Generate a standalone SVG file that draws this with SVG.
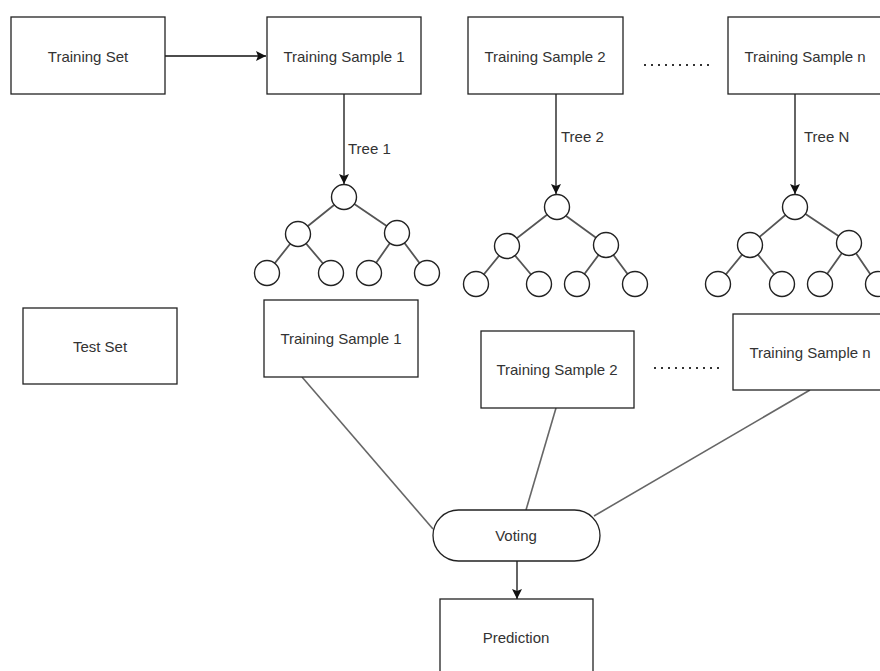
<svg xmlns="http://www.w3.org/2000/svg" width="880" height="671" viewBox="0 0 880 671">
<style>
.box{fill:#fff;stroke:#222;stroke-width:1.3}
.t{font-family:"Liberation Sans",Arial,sans-serif;font-size:15px;fill:#333;text-anchor:middle;dominant-baseline:central}
.tl{font-family:"Liberation Sans",Arial,sans-serif;font-size:15px;fill:#333;dominant-baseline:central}
.arr{stroke:#111;stroke-width:1.3;fill:none}
.edge{stroke:#555;stroke-width:1.8;fill:none}
.gl{stroke:#666;stroke-width:1.6;fill:none}
.c{fill:#fff;stroke:#222;stroke-width:1.4}
.dots{stroke:#333;stroke-width:2;stroke-dasharray:2 5;fill:none}
</style>
<defs>
<marker id="ah" viewBox="0 0 10 10" refX="10" refY="5" markerWidth="10" markerHeight="10" markerUnits="userSpaceOnUse" orient="auto">
<path d="M0,0 L10,5 L0,10 L2,5 z" fill="#111"/>
</marker>
</defs>
<rect width="880" height="671" fill="#fff"/>
<g id="connectors">
<line class="arr" x1="165" y1="56" x2="266" y2="56" marker-end="url(#ah)"/>
<line class="arr" x1="344" y1="94" x2="344" y2="184" marker-end="url(#ah)"/>
<line class="arr" x1="556" y1="94" x2="556" y2="194" marker-end="url(#ah)"/>
<line class="arr" x1="795" y1="94" x2="795" y2="194" marker-end="url(#ah)"/>
<line class="gl" x1="302" y1="377" x2="433" y2="529"/>
<line class="gl" x1="556" y1="408" x2="526" y2="510"/>
<line class="gl" x1="810" y1="390" x2="594" y2="516"/>
<line class="arr" x1="517" y1="561" x2="517" y2="599" marker-end="url(#ah)"/>
<line class="dots" x1="644" y1="65" x2="710" y2="65"/>
<line class="dots" x1="654" y1="368" x2="720" y2="368"/>
</g>
<g id="labels">
<text class="tl" x="348" y="148">Tree 1</text>
<text class="tl" x="561" y="136">Tree 2</text>
<text class="tl" x="804" y="136">Tree N</text>
</g>
<g id="training-set"><rect class="box" x="11" y="17" width="154" height="77"/><text class="t" x="88" y="56">Training Set</text></g>
<g id="ts1-top"><rect class="box" x="267" y="17" width="154" height="77"/><text class="t" x="344" y="56">Training Sample 1</text></g>
<g id="ts2-top"><rect class="box" x="468" y="17" width="155" height="77"/><text class="t" x="545" y="56">Training Sample 2</text></g>
<g id="tsn-top"><rect class="box" x="728" y="17" width="155" height="77"/><text class="t" x="805" y="56">Training Sample n</text></g>
<g id="tree1">
<path class="edge" d="M344,197 L298,234 M344,197 L397,233 M298,234 L267,273 M298,234 L331,273 M397,233 L369,273 M397,233 L427,273"/>
<circle class="c" cx="344" cy="197" r="12.5"/>
<circle class="c" cx="298" cy="234" r="12.5"/>
<circle class="c" cx="397" cy="233" r="12.5"/>
<circle class="c" cx="267" cy="273" r="12.5"/>
<circle class="c" cx="331" cy="273" r="12.5"/>
<circle class="c" cx="369" cy="273" r="12.5"/>
<circle class="c" cx="427" cy="273" r="12.5"/>
</g>
<g id="tree2">
<path class="edge" d="M557,207 L507,246 M562,213 L606,245 M507,246 L476,284 M507,246 L539,284 M606,245 L577,284 M606,245 L635,284"/>
<circle class="c" cx="557" cy="207" r="12.5"/>
<circle class="c" cx="507" cy="246" r="12.5"/>
<circle class="c" cx="606" cy="245" r="12.5"/>
<circle class="c" cx="476" cy="284" r="12.5"/>
<circle class="c" cx="539" cy="284" r="12.5"/>
<circle class="c" cx="577" cy="284" r="12.5"/>
<circle class="c" cx="635" cy="284" r="12.5"/>
</g>
<g id="treeN">
<path class="edge" d="M795,207 L750,245 M795,207 L849,243 M750,245 L718,284 M750,245 L782,284 M849,243 L820,284 M849,243 L877,284"/>
<circle class="c" cx="795" cy="207" r="12.5"/>
<circle class="c" cx="750" cy="245" r="12.5"/>
<circle class="c" cx="849" cy="243" r="12.5"/>
<circle class="c" cx="718" cy="284" r="12.5"/>
<circle class="c" cx="782" cy="284" r="12.5"/>
<circle class="c" cx="820" cy="284" r="12.5"/>
<circle class="c" cx="878" cy="284" r="12.5"/>
</g>
<g id="test-set"><rect class="box" x="23" y="308" width="154" height="76"/><text class="t" x="100" y="346">Test Set</text></g>
<g id="ts1-bottom"><rect class="box" x="264" y="300" width="154" height="77"/><text class="t" x="341" y="338">Training Sample 1</text></g>
<g id="ts2-bottom"><rect class="box" x="481" y="331" width="153" height="77"/><text class="t" x="557" y="369">Training Sample 2</text></g>
<g id="tsn-bottom"><rect class="box" x="733" y="314" width="154" height="76"/><text class="t" x="810" y="352">Training Sample n</text></g>
<g id="voting"><rect class="box" x="433" y="510" width="167" height="51" rx="25.5"/><text class="t" x="516" y="535">Voting</text></g>
<g id="prediction"><rect class="box" x="440" y="599" width="153" height="77"/><text class="t" x="516" y="637">Prediction</text></g>
</svg>
